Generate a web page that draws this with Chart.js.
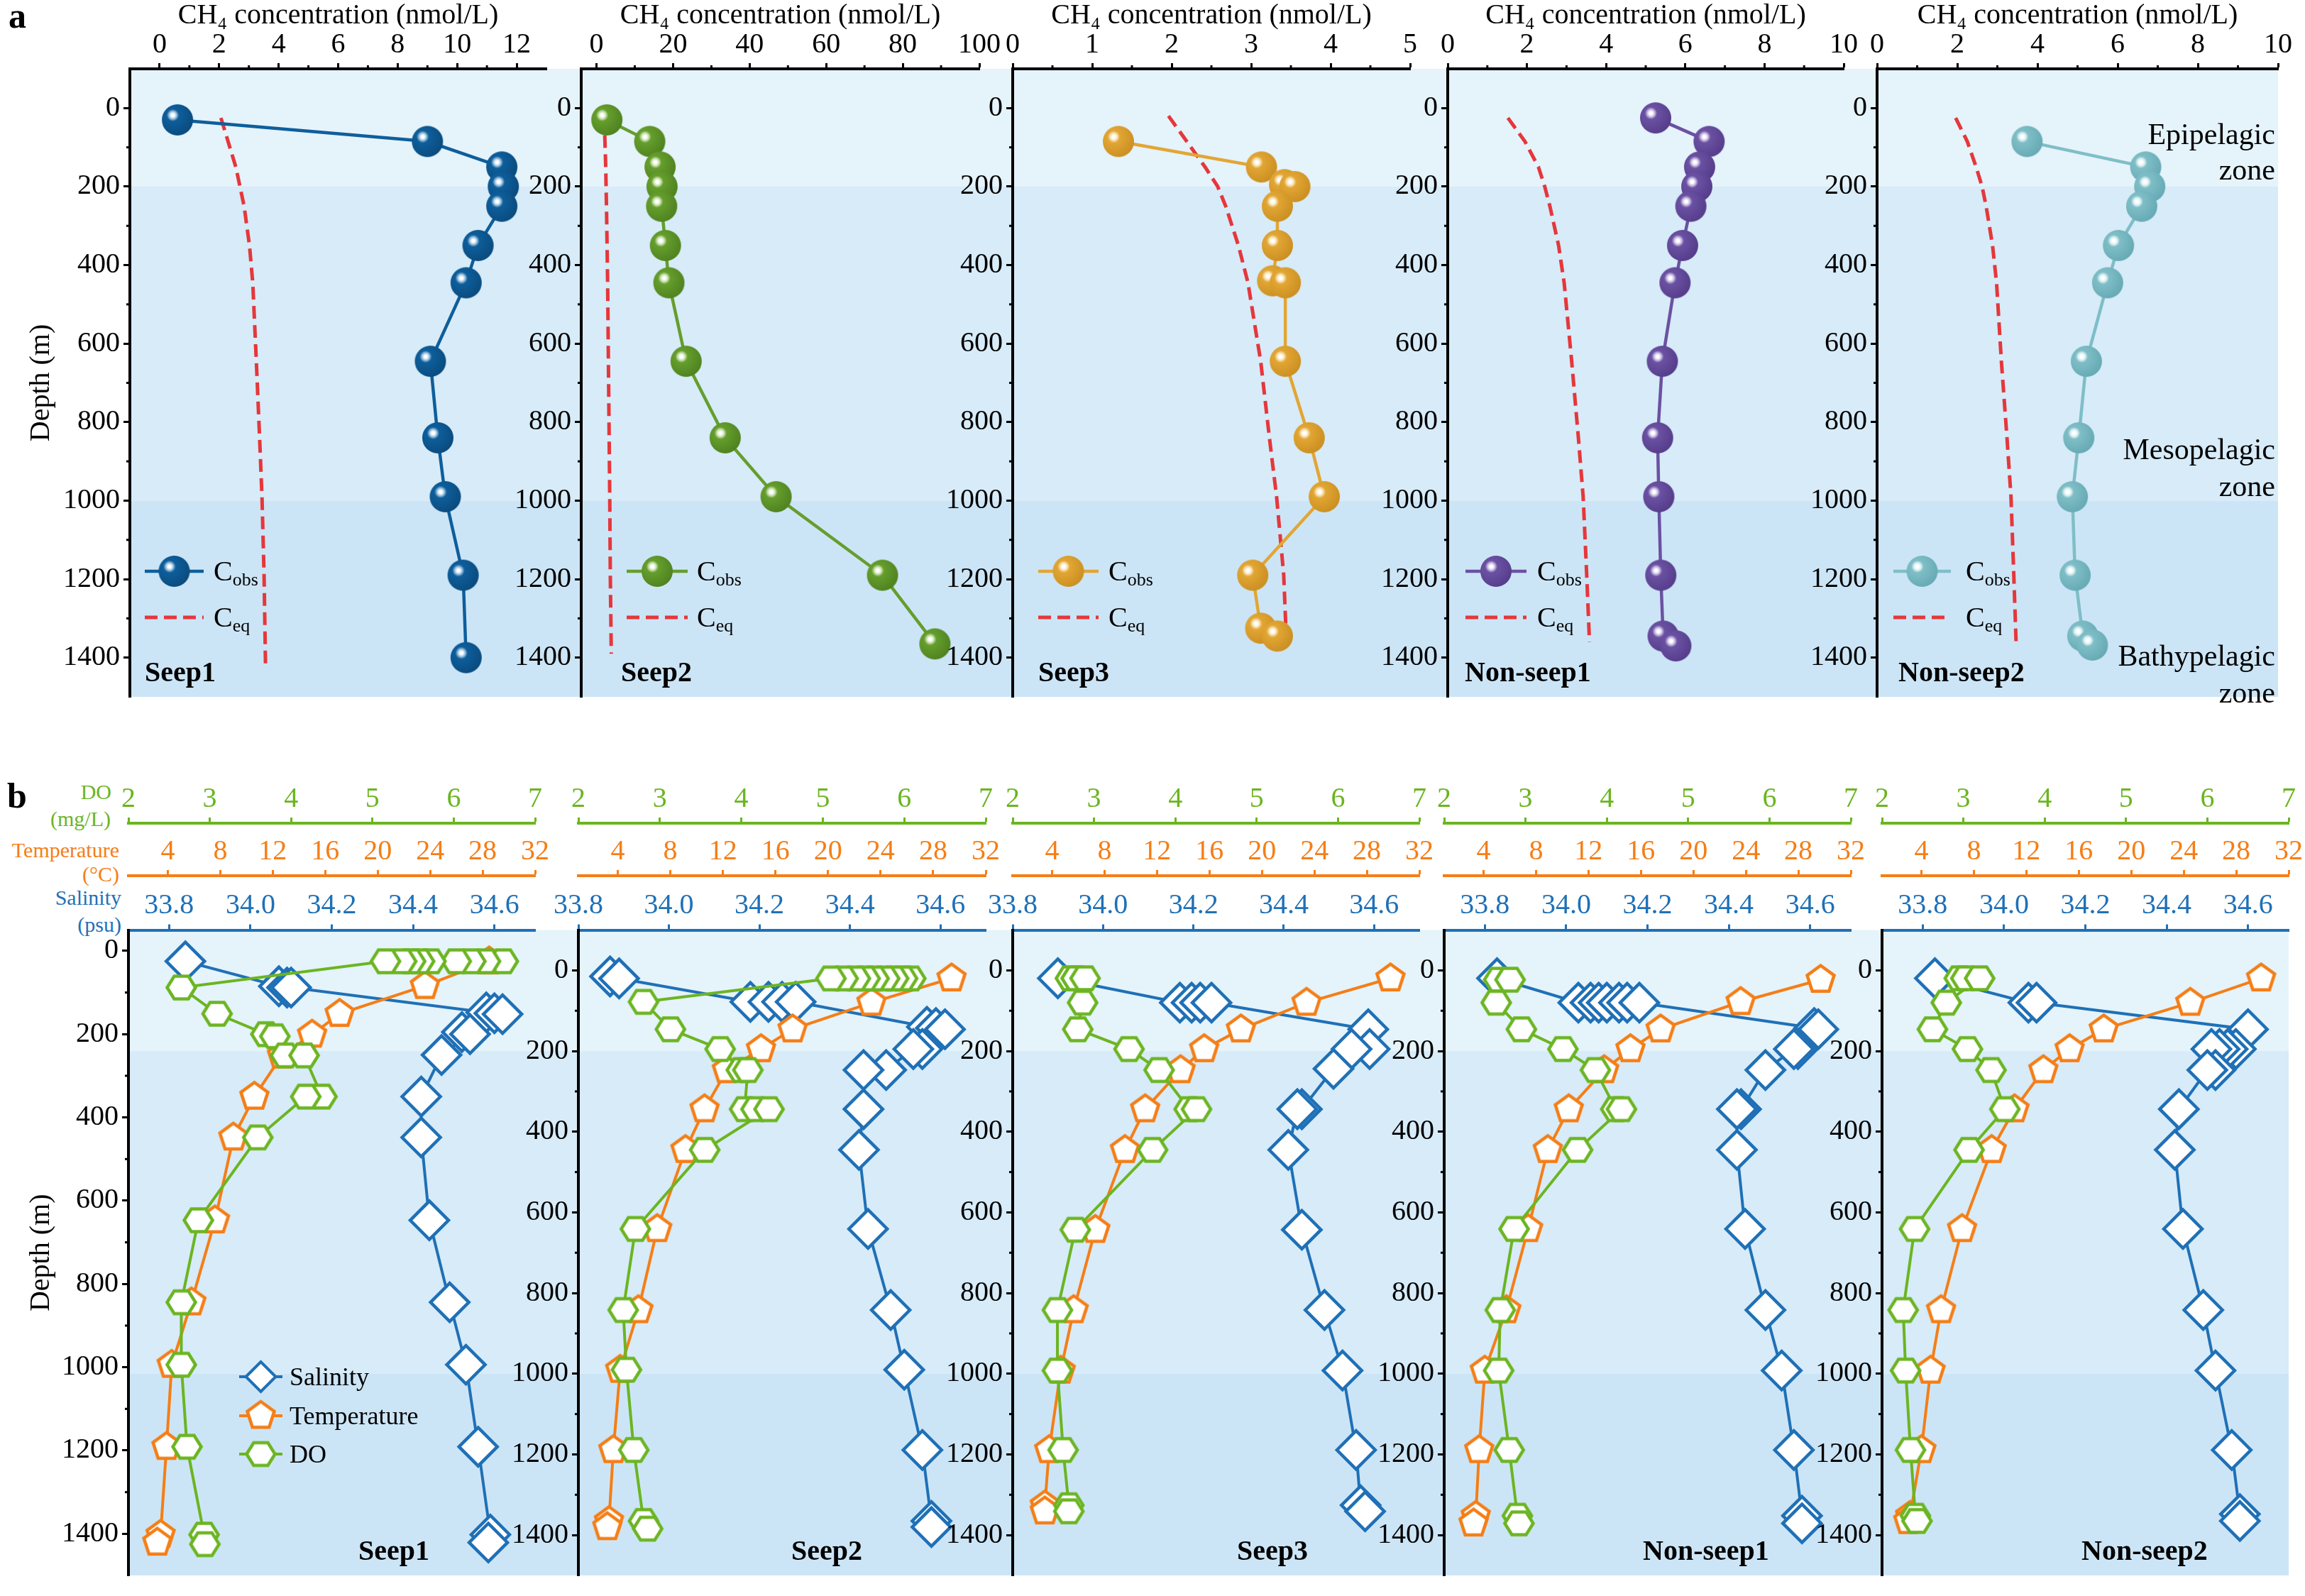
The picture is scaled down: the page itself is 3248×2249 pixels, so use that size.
<!DOCTYPE html>
<html>
<head>
<meta charset="utf-8">
<title>CH4 and hydrographic profiles</title>
<script src="https://cdn.jsdelivr.net/npm/chart.js@4.4.1/dist/chart.umd.min.js"></script>
<style>
  body { margin: 0; width: 3248px; height: 2249px; background: #fff; position: relative; overflow: hidden;
         font-family: 'Liberation Serif', 'Times New Roman', serif; }
  canvas { position: absolute; }
  .lbl { position: absolute; white-space: nowrap; line-height: 1; }
</style>
</head>
<body>
<div class="lbl" style="left:12px;top:-3px;font-size:50px;font-weight:bold;">a</div>
<div class="lbl" style="left:10px;top:1096px;font-size:50px;font-weight:bold;">b</div>
<div class="lbl" style="left:0;width:157px;text-align:right;top:1101px;font-size:30px;color:#6BB521;">DO</div>
<div class="lbl" style="left:0;width:156px;text-align:right;top:1139px;font-size:30px;color:#6BB521;">(mg/L)</div>
<div class="lbl" style="left:0;width:168px;text-align:right;top:1183px;font-size:30px;color:#F57E16;">Temperature</div>
<div class="lbl" style="left:0;width:168px;text-align:right;top:1217px;font-size:30px;color:#F57E16;">(°C)</div>
<div class="lbl" style="left:0;width:171px;text-align:right;top:1250px;font-size:30px;color:#1F70B6;">Salinity</div>
<div class="lbl" style="left:0;width:171px;text-align:right;top:1288px;font-size:30px;color:#1F70B6;">(psu)</div>

<script>
const FONT = "'Liberation Serif', 'Times New Roman', serif";

// depth axis labels shared by every panel
const depthTicks = [0, 200, 400, 600, 800, 1000, 1200, 1400];

// ---------- a: CH4 concentration profiles ----------
const ch4TicksSeep1 = [0, 2, 4, 6, 8, 10, 12];
const ch4TicksSeep2 = [0, 20, 40, 60, 80, 100];
const ch4TicksSeep3 = [0, 1, 2, 3, 4, 5];
const ch4TicksNonSeep = [0, 2, 4, 6, 8, 10];

const seep1CobsDepth = [30, 85, 150, 200, 250, 350, 445, 645, 840, 990, 1190, 1400];
const seep1Cobs = [0.6, 9.0, 11.5, 11.55, 11.5, 10.7, 10.3, 9.1, 9.35, 9.6, 10.2, 10.3];
const seep1CeqDepth = [25, 85, 150, 200, 250, 350, 445, 645, 840, 990, 1190, 1425];
const seep1Ceq = [2.06, 2.3, 2.56, 2.7, 2.84, 3.02, 3.13, 3.25, 3.36, 3.44, 3.51, 3.56];

const seep2CobsDepth = [30, 85, 150, 200, 250, 350, 445, 645, 840, 990, 1190, 1365];
const seep2Cobs = [2.7, 13.9, 16.6, 17.1, 17.0, 18.0, 18.9, 23.4, 33.6, 46.9, 74.7, 88.4];
const seep2CeqDepth = [20, 150, 250, 445, 645, 840, 990, 1190, 1390];
const seep2Ceq = [2.0, 2.4, 2.6, 2.9, 3.1, 3.3, 3.45, 3.6, 3.85];

const seep3CobsDepth = [85, 150, 195, 200, 250, 350, 440, 445, 645, 840, 990, 1190, 1325, 1345];
const seep3Cobs = [1.33, 3.13, 3.42, 3.55, 3.33, 3.33, 3.27, 3.43, 3.43, 3.73, 3.92, 3.02, 3.12, 3.33];
const seep3CeqDepth = [20, 85, 150, 200, 250, 350, 445, 645, 840, 990, 1190, 1340];
const seep3Ceq = [1.96, 2.19, 2.42, 2.58, 2.68, 2.84, 2.96, 3.12, 3.23, 3.32, 3.41, 3.44];

const nonseep1CobsDepth = [25, 85, 150, 200, 250, 350, 445, 645, 840, 990, 1190, 1345, 1370];
const nonseep1Cobs = [5.25, 6.6, 6.36, 6.29, 6.14, 5.93, 5.74, 5.42, 5.3, 5.33, 5.38, 5.44, 5.76];
const nonseep1CeqDepth = [25, 85, 150, 200, 250, 350, 445, 645, 840, 990, 1190, 1360];
const nonseep1Ceq = [1.52, 1.95, 2.29, 2.45, 2.58, 2.8, 2.94, 3.13, 3.3, 3.42, 3.51, 3.58];

const nonseep2CobsDepth = [85, 150, 200, 250, 350, 445, 645, 840, 990, 1190, 1345, 1368];
const nonseep2Cobs = [3.74, 6.7, 6.8, 6.6, 6.02, 5.75, 5.22, 5.03, 4.87, 4.94, 5.13, 5.37];
const nonseep2CeqDepth = [25, 85, 150, 200, 250, 350, 445, 645, 840, 990, 1190, 1370];
const nonseep2Ceq = [1.96, 2.25, 2.47, 2.62, 2.72, 2.88, 2.98, 3.1, 3.24, 3.34, 3.41, 3.47];

// ---------- b: salinity, temperature and DO ----------
const doTicks = [2, 3, 4, 5, 6, 7];
const tempTicks = [4, 8, 12, 16, 20, 24, 28, 32];
const salTicks = [33.8, 34.0, 34.2, 34.4, 34.6];

const seep1SalDepth = [25, 85, 88, 88, 148, 150, 152, 195, 200, 250, 350, 448, 647, 844, 994, 1191, 1402, 1421];
const seep1Sal = [33.84, 34.07, 34.09, 34.1, 34.58, 34.6, 34.62, 34.52, 34.54, 34.47, 34.42, 34.42, 34.44, 34.49, 34.53, 34.56, 34.59, 34.585];
const seep1TempDepth = [25, 84, 151, 201, 251, 350, 448, 647, 844, 994, 1191, 1402, 1421];
const seep1Temp = [28.5, 23.6, 17.1, 15.0, 12.7, 10.6, 9.0, 7.6, 5.8, 4.3, 3.9, 3.45, 3.2];
const seep1DoDepth = [25, 25, 25, 25, 25, 25, 25, 25, 25, 88, 151, 200, 205, 251, 251, 350, 350, 448, 647, 844, 994, 1191, 1402, 1425];
const seep1Do = [6.61, 6.39, 6.21, 6.03, 5.72, 5.58, 5.47, 5.36, 5.16, 2.65, 3.09, 3.69, 3.8, 3.93, 4.16, 4.38, 4.18, 3.59, 2.86, 2.65, 2.65, 2.72, 2.93, 2.94];

const seep2SalDepth = [15, 20, 78, 78, 78, 78, 140, 143, 146, 195, 195, 247, 247, 344, 445, 641, 842, 990, 1189, 1365, 1380];
const seep2Sal = [33.87, 33.89, 34.18, 34.22, 34.25, 34.28, 34.57, 34.59, 34.61, 34.56, 34.54, 34.48, 34.43, 34.43, 34.42, 34.44, 34.49, 34.52, 34.56, 34.58, 34.58];
const seep2TempDepth = [19.5, 80, 146, 195, 247, 344, 445, 641, 842, 990, 1189, 1365, 1380];
const seep2Temp = [29.4, 23.3, 17.3, 14.9, 12.3, 10.6, 9.15, 7.0, 5.57, 4.18, 3.66, 3.33, 3.2];
const seep2DoDepth = [20, 20, 20, 20, 20, 20, 20, 20, 20, 78, 146, 195, 247, 247, 344, 344, 344, 445, 641, 842, 990, 1189, 1365, 1384];
const seep2Do = [6.08, 5.98, 5.87, 5.76, 5.63, 5.52, 5.4, 5.25, 5.1, 2.8, 3.13, 3.74, 4.0, 4.08, 4.04, 4.18, 4.34, 3.55, 2.7, 2.55, 2.59, 2.68, 2.8, 2.85];

const seep3SalDepth = [19.5, 80, 80, 80, 80, 146, 195, 195, 244, 344, 344, 445, 643, 842, 992, 1189, 1326, 1341];
const seep3Sal = [33.9, 34.17, 34.196, 34.215, 34.24, 34.587, 34.59, 34.55, 34.51, 34.44, 34.43, 34.41, 34.44, 34.49, 34.53, 34.56, 34.57, 34.58];
const seep3TempDepth = [19.5, 80, 146, 195, 247, 344, 445, 643, 842, 992, 1189, 1326, 1341];
const seep3Temp = [29.8, 23.4, 18.4, 15.6, 13.8, 11.1, 9.56, 7.3, 5.65, 4.66, 3.78, 3.45, 3.45];
const seep3DoDepth = [19.5, 19.5, 19.5, 80, 146, 195, 247, 344, 344, 445, 643, 842, 992, 1189, 1326, 1341];
const seep3Do = [2.71, 2.78, 2.89, 2.86, 2.8, 3.43, 3.8, 4.17, 4.26, 3.72, 2.77, 2.55, 2.55, 2.62, 2.69, 2.69];

const nonseep1SalDepth = [19.5, 80, 80, 80, 80, 80, 80, 80, 143, 146, 195, 195, 247, 344, 344, 445, 641, 842, 992, 1189, 1352, 1371];
const nonseep1Sal = [33.83, 34.03, 34.06, 34.08, 34.1, 34.13, 34.15, 34.18, 34.61, 34.62, 34.57, 34.56, 34.49, 34.43, 34.42, 34.42, 34.44, 34.49, 34.53, 34.56, 34.58, 34.58];
const nonseep1TempDepth = [23, 78, 146, 195, 247, 344, 445, 641, 842, 992, 1189, 1352, 1371];
const nonseep1Temp = [29.7, 23.6, 17.5, 15.2, 13.2, 10.5, 8.9, 7.4, 5.74, 4.1, 3.67, 3.41, 3.24];
const nonseep1DoDepth = [23, 23, 80, 146, 195, 247, 344, 344, 445, 641, 842, 992, 1189, 1352, 1371];
const nonseep1Do = [2.67, 2.81, 2.64, 2.95, 3.46, 3.86, 4.11, 4.18, 3.64, 2.86, 2.69, 2.67, 2.8, 2.9, 2.92];

const nonseep2SalDepth = [19.5, 80, 80, 146, 195, 195, 195, 195, 247, 247, 344, 445, 641, 842, 992, 1189, 1348, 1365];
const nonseep2Sal = [33.83, 34.06, 34.08, 34.6, 34.57, 34.55, 34.53, 34.51, 34.52, 34.5, 34.43, 34.42, 34.44, 34.49, 34.52, 34.56, 34.58, 34.58];
const nonseep2TempDepth = [19.5, 80, 146, 195, 247, 344, 445, 641, 842, 992, 1189, 1352, 1365];
const nonseep2Temp = [29.9, 24.5, 17.9, 15.3, 13.3, 11.1, 9.36, 7.1, 5.5, 4.7, 4.0, 3.14, 3.0];
const nonseep2DoDepth = [19.5, 19.5, 19.5, 80, 146, 195, 247, 344, 445, 641, 842, 992, 1189, 1352, 1365];
const nonseep2Do = [2.95, 3.03, 3.2, 2.79, 2.62, 3.05, 3.34, 3.51, 3.07, 2.4, 2.26, 2.29, 2.35, 2.41, 2.43];

// ---------- styles ----------
const BLUE = '#1F70B6', ORANGE = '#F57E16', GREEN = '#6BB521', RED = '#E5373B';
const BAND = ['#E5F3FB', '#D7EBF8', '#CCE5F6'];

const pts = (xs, ys) => xs.map((x, i) => ({ x: x, y: ys[i] }));

// 3d-looking ball used for Cobs
function sphereImg(color, light, dark, r) {
  const s = 2 * r + 2;
  const c = document.createElement('canvas');
  c.width = s; c.height = s;
  const g = c.getContext('2d');
  const hx = s / 2 - r * 0.3, hy = s / 2 - r * 0.3;
  const grd = g.createRadialGradient(hx, hy, 0, hx, hy, r * 1.4);
  grd.addColorStop(0, '#ffffff');
  grd.addColorStop(0.07, '#ffffff');
  grd.addColorStop(0.17, light);
  grd.addColorStop(0.28, color);
  grd.addColorStop(1, dark);
  g.fillStyle = grd;
  g.beginPath(); g.arc(s / 2, s / 2, r, 0, Math.PI * 2); g.fill();
  return c;
}

// hollow polygon marker (pentagon / hexagon)
function polyImg(n, r, rot, sy, stroke, lw) {
  const s = Math.ceil(2 * r + lw + 4);
  const c = document.createElement('canvas');
  c.width = s; c.height = s;
  const g = c.getContext('2d');
  g.beginPath();
  for (let k = 0; k < n; k++) {
    const a = rot + k * 2 * Math.PI / n;
    const px = s / 2 + r * Math.cos(a), py = s / 2 + r * Math.sin(a) * sy;
    if (k) g.lineTo(px, py); else g.moveTo(px, py);
  }
  g.closePath();
  g.fillStyle = '#fff'; g.fill();
  g.lineWidth = lw; g.strokeStyle = stroke; g.lineJoin = 'miter'; g.stroke();
  return c;
}

const pentImg = polyImg(5, 20, -Math.PI / 2, 1, ORANGE, 4.5);
const hexImg = polyImg(6, 20, 0, 0.92, GREEN, 4.5);

function minorValues(min, max, step, major) {
  const out = [];
  for (let v = Math.ceil(min / step) * step; v < max - 1e-9; v += step) {
    const r = Math.round(v * 1000) / 1000;
    if (r <= min + 1e-9) continue;
    if (!major.some(m => Math.abs(m - r) < 1e-6)) out.push(r);
  }
  return out;
}

// short minor ticks that Chart.js cannot draw itself
const minorTicks = {
  id: 'minorTicks',
  afterDraw(chart, args, opts) {
    const ctx = chart.ctx;
    (opts.list || []).forEach(m => {
      const s = chart.scales[m.axis];
      ctx.save();
      ctx.strokeStyle = m.color; ctx.lineWidth = 3;
      m.values.forEach(v => {
        const p = s.getPixelForValue(v);
        ctx.beginPath();
        if (s.isHorizontal()) { ctx.moveTo(p, s.bottom); ctx.lineTo(p, s.bottom - m.len); }
        else { ctx.moveTo(s.right, p); ctx.lineTo(s.right - m.len, p); }
        ctx.stroke();
      });
      ctx.restore();
    });
  }
};

function drawLabel(ctx, x, y, main, sub, size) {
  ctx.font = size + 'px ' + FONT;
  ctx.textBaseline = 'alphabetic';
  ctx.textAlign = 'left';
  ctx.fillStyle = '#000';
  ctx.fillText(main, x, y + size * 0.33);
  if (sub) {
    const w = ctx.measureText(main).width;
    ctx.font = Math.round(size * 0.66) + 'px ' + FONT;
    ctx.fillText(sub, x + w, y + size * 0.5);
  }
}

// panel name, legend and zone captions
const decor = {
  id: 'decor',
  afterDraw(chart, args, o) {
    const { ctx, chartArea: ca } = chart;
    ctx.save();
    if (o.name) {
      ctx.font = 'bold 40px ' + FONT;
      ctx.fillStyle = '#000'; ctx.textBaseline = 'middle'; ctx.textAlign = 'left';
      ctx.fillText(o.name, ca.left + o.nameX, ca.bottom - 32);
    }
    (o.legend || []).forEach(row => {
      const y = ca.bottom + row.dy;
      ctx.save();
      ctx.strokeStyle = row.color; ctx.lineWidth = row.lw || 4;
      if (row.dash) ctx.setLineDash(row.dash);
      ctx.beginPath(); ctx.moveTo(ca.left + row.x0, y); ctx.lineTo(ca.left + row.x1, y); ctx.stroke();
      ctx.restore();
      if (row.img) {
        const mx = ca.left + (row.x0 + row.x1) / 2;
        ctx.drawImage(row.img, mx - row.img.width / 2, y - row.img.height / 2);
      }
      if (row.diamond) {
        const mx = ca.left + (row.x0 + row.x1) / 2, r = row.diamond;
        ctx.beginPath();
        ctx.moveTo(mx - r, y); ctx.lineTo(mx, y - r); ctx.lineTo(mx + r, y); ctx.lineTo(mx, y + r); ctx.closePath();
        ctx.fillStyle = '#fff'; ctx.fill(); ctx.lineWidth = 4; ctx.strokeStyle = row.color; ctx.stroke();
      }
      drawLabel(ctx, ca.left + row.tx, y, row.text, row.sub, row.size);
    });
    (o.zones || []).forEach(z => {
      ctx.font = '42px ' + FONT;
      ctx.fillStyle = '#000'; ctx.textBaseline = 'middle'; ctx.textAlign = 'right';
      ctx.fillText(z.text, ca.right - 4, ca.top + z.dy);
    });
    ctx.restore();
  }
};

function makeCanvas(left, top, w, h) {
  const c = document.createElement('canvas');
  c.width = w; c.height = h;
  c.style.left = left + 'px'; c.style.top = top + 'px';
  c.style.width = w + 'px'; c.style.height = h + 'px';
  document.body.appendChild(c);
  return c;
}

function depthAxis(min, w, withTitle) {
  return {
    type: 'linear', position: 'left', reverse: true, min: min, max: 1500,
    afterBuildTicks: s => { s.ticks = depthTicks.map(v => ({ value: v })); },
    afterFit: s => { s.width = w; },
    ticks: { font: { family: FONT, size: 40 }, color: '#000', padding: 5, autoSkip: false,
             callback: v => String(v) },
    grid: { drawOnChartArea: false, tickLength: 9, tickWidth: 3, tickColor: '#000' },
    border: { color: '#000', width: 4 },
    title: { display: withTitle, text: 'Depth (m)', color: '#000',
             font: { family: FONT, size: 40 }, padding: { top: 34, bottom: 0 } }
  };
}

function topAxis(min, max, ticks, color, h, weight, fmt, title) {
  return {
    type: 'linear', position: 'top', min: min, max: max, weight: weight,
    afterBuildTicks: s => { s.ticks = ticks.map(v => ({ value: v })); },
    afterFit: s => { s.height = h; },
    ticks: { font: { family: FONT, size: 40 }, color: color, padding: 2, maxRotation: 0, minRotation: 0,
             autoSkip: false, callback: fmt },
    grid: { drawOnChartArea: false, tickLength: 8, tickWidth: 3, tickColor: color },
    border: { color: color, width: 4 },
    title: title ? { display: true, text: title, color: '#000',
                     font: { family: FONT, size: 40, lineHeight: 1.1 }, padding: { top: 0, bottom: 0 } }
                 : { display: false }
  };
}

// ---------- row a ----------
const panelsA = [
  { name: 'Seep1', left: 183, right: 770, min: -1, max: 13, ticks: ch4TicksSeep1, minor: 1,
    cobs: pts(seep1Cobs, seep1CobsDepth), ceq: pts(seep1Ceq, seep1CeqDepth),
    color: '#0E5E9B', light: '#9CC2DF', dark: '#0A4B7E', nameX: 21, leg: [21, 104, 118] },
  { name: 'Seep2', left: 819, right: 1380, min: -4, max: 100, ticks: ch4TicksSeep2, minor: 10,
    cobs: pts(seep2Cobs, seep2CobsDepth), ceq: pts(seep2Ceq, seep2CeqDepth),
    color: '#659E2D', light: '#C9E0AC', dark: '#4F8220', nameX: 56, leg: [64, 150, 163] },
  { name: 'Seep3', left: 1427, right: 1987, min: 0, max: 5, ticks: ch4TicksSeep3, minor: 0.5,
    cobs: pts(seep3Cobs, seep3CobsDepth), ceq: pts(seep3Ceq, seep3CeqDepth),
    color: '#E2A634', light: '#F7E0AE', dark: '#CB8F22', nameX: 36, leg: [36, 121, 135] },
  { name: 'Non-seep1', left: 2040, right: 2598, min: 0, max: 10, ticks: ch4TicksNonSeep, minor: 1,
    cobs: pts(nonseep1Cobs, nonseep1CobsDepth), ceq: pts(nonseep1Ceq, nonseep1CeqDepth),
    color: '#6B51A2', light: '#C8BBE2', dark: '#563D8B', nameX: 24, leg: [25, 111, 126] },
  { name: 'Non-seep2', left: 2645, right: 3210, min: 0, max: 10, ticks: ch4TicksNonSeep, minor: 1,
    cobs: pts(nonseep2Cobs, nonseep2CobsDepth), ceq: pts(nonseep2Ceq, nonseep2CeqDepth),
    color: '#7FBEC7', light: '#D8EEF1', dark: '#66AAB4', nameX: 30, leg: [23, 104, 125],
    zones: [{ text: 'Epipelagic', dy: 95 }, { text: 'zone', dy: 145 },
            { text: 'Mesopelagic', dy: 539 }, { text: 'zone', dy: 591 },
            { text: 'Bathypelagic', dy: 830 }, { text: 'zone', dy: 882 }] }
];

// ---------- row b ----------
const panelsB = [
  { name: 'Seep1', left: 181, right: 754, yMin: -50, salMin: 33.7, nameX: 324,
    sal: [seep1Sal, seep1SalDepth], temp: [seep1Temp, seep1TempDepth], dox: [seep1Do, seep1DoDepth], legend: true },
  { name: 'Seep2', left: 815, right: 1389, yMin: -100, salMin: 33.8, nameX: 300,
    sal: [seep2Sal, seep2SalDepth], temp: [seep2Temp, seep2TempDepth], dox: [seep2Do, seep2DoDepth] },
  { name: 'Seep3', left: 1427, right: 2000, yMin: -100, salMin: 33.8, nameX: 316,
    sal: [seep3Sal, seep3SalDepth], temp: [seep3Temp, seep3TempDepth], dox: [seep3Do, seep3DoDepth] },
  { name: 'Non-seep1', left: 2035, right: 2608, yMin: -100, salMin: 33.7, nameX: 280,
    sal: [nonseep1Sal, nonseep1SalDepth], temp: [nonseep1Temp, nonseep1TempDepth], dox: [nonseep1Do, nonseep1DoDepth] },
  { name: 'Non-seep2', left: 2652, right: 3225, yMin: -100, salMin: 33.7, nameX: 281,
    sal: [nonseep2Sal, nonseep2SalDepth], temp: [nonseep2Temp, nonseep2TempDepth], dox: [nonseep2Do, nonseep2DoDepth] }
];

// background bands behind each row (drawn from the charts' depth scales)
const bgA = makeCanvas(0, 0, 3248, 1011);
const bgB = makeCanvas(0, 1090, 3248, 1159);

const chartsA = panelsA.map((p, i) => {
  const yW = i === 0 ? 183 : 130;
  const padR = 45;
  const cv = makeCanvas(p.left - yW, 0, p.right - p.left + yW + padR, 1011);
  const ball = sphereImg(p.color, p.light, p.dark, 22);
  return new Chart(cv, {
    type: 'scatter',
    data: {
      datasets: [
        { label: 'Cobs', data: p.cobs, showLine: true, borderColor: p.color, borderWidth: 4.5,
          pointStyle: ball, pointRadius: 22, clip: false, order: 1 },
        { label: 'Ceq', data: p.ceq, showLine: true, borderColor: RED, borderWidth: 5, borderDash: [18, 9],
          pointRadius: 0, clip: false, order: 2 }
      ]
    },
    options: {
      responsive: false, animation: false,
      layout: { padding: { left: 0, right: padR, top: 0, bottom: 10 }, autoPadding: false },
      plugins: {
        legend: { display: false }, tooltip: { enabled: false },
        minorTicks: { list: [
          { axis: 'x', values: minorValues(p.min, p.max, p.minor, p.ticks), len: 5, color: '#000' },
          { axis: 'y', values: minorValues(-100, 1500, 100, depthTicks), len: 5, color: '#000' }
        ] },
        decor: {
          name: p.name, nameX: p.nameX, zones: p.zones,
          legend: [
            { dy: -177, x0: p.leg[0], x1: p.leg[1], tx: p.leg[2], color: p.color, lw: 4.5, img: ball, text: 'C', sub: 'obs', size: 40 },
            { dy: -112, x0: p.leg[0], x1: p.leg[1], tx: p.leg[2], color: RED, lw: 5, dash: [18, 9], text: 'C', sub: 'eq', size: 40 }
          ]
        }
      },
      scales: {
        x: topAxis(p.min, p.max, p.ticks, '#000', 97, 0, v => String(v), 'CH\u2084 concentration (nmol/L)'),
        y: depthAxis(-100, yW, i === 0)
      }
    },
    plugins: [minorTicks, decor]
  });
});

const chartsB = panelsB.map((p, i) => {
  const yW = i === 0 ? 181 : 130;
  const padR = 25;
  const cv = makeCanvas(p.left - yW, 1090, p.right - p.left + yW + padR, 1159);
  return new Chart(cv, {
    type: 'scatter',
    data: {
      datasets: [
        { label: 'Salinity', data: pts(p.sal[0], p.sal[1]), xAxisID: 'xs', showLine: true,
          borderColor: BLUE, borderWidth: 4, pointStyle: 'rectRot', pointRadius: 27, pointBorderWidth: 4.5,
          pointBorderColor: BLUE, pointBackgroundColor: '#fff', clip: false, order: 3 },
        { label: 'Temperature', data: pts(p.temp[0], p.temp[1]), xAxisID: 'xt', showLine: true,
          borderColor: ORANGE, borderWidth: 4, pointStyle: pentImg, pointRadius: 20, clip: false, order: 2 },
        { label: 'DO', data: pts(p.dox[0], p.dox[1]), xAxisID: 'xd', showLine: true,
          borderColor: GREEN, borderWidth: 4, pointStyle: hexImg, pointRadius: 20, clip: false, order: 1 }
      ]
    },
    options: {
      responsive: false, animation: false,
      layout: { padding: { left: 0, right: padR, top: 0, bottom: 10 }, autoPadding: false },
      plugins: {
        legend: { display: false }, tooltip: { enabled: false },
        minorTicks: { list: [
          { axis: 'y', values: minorValues(p.yMin, 1500, 100, depthTicks), len: 5, color: '#000' }
        ] },
        decor: {
          name: p.name, nameX: p.nameX,
          legend: p.legend ? [
            { dy: -280, x0: 156, x1: 217, tx: 227, color: BLUE, lw: 4, diamond: 21, text: 'Salinity', size: 36 },
            { dy: -225, x0: 156, x1: 217, tx: 227, color: ORANGE, lw: 4, img: pentImg, text: 'Temperature', size: 36 },
            { dy: -171, x0: 156, x1: 217, tx: 227, color: GREEN, lw: 4, img: hexImg, text: 'DO', size: 36 }
          ] : []
        }
      },
      scales: {
        xd: topAxis(2, 7, doTicks, GREEN, 70, 2, v => String(v)),
        xt: topAxis(1, 32, tempTicks, ORANGE, 74, 1, v => String(v)),
        xs: topAxis(p.salMin, 34.7, salTicks, BLUE, 76.6, 0, v => Number(v).toFixed(1)),
        y: depthAxis(p.yMin, yW, i === 0)
      }
    },
    plugins: [minorTicks, decor]
  });
});

function drawBands(bg, bgTop, first, firstLeft, last, lastLeft, ref, refTop) {
  const g = bg.getContext('2d');
  const y = ref.scales.y;
  const off = refTop - bgTop;
  const x0 = first.chartArea.left + firstLeft;
  const x1 = last.chartArea.right + lastLeft;
  const top = ref.chartArea.top + off, bottom = ref.chartArea.bottom + off;
  const y200 = y.getPixelForValue(200) + off, y1000 = y.getPixelForValue(1000) + off;
  g.fillStyle = BAND[0]; g.fillRect(x0, top, x1 - x0, y200 - top);
  g.fillStyle = BAND[1]; g.fillRect(x0, y200, x1 - x0, y1000 - y200);
  g.fillStyle = BAND[2]; g.fillRect(x0, y1000, x1 - x0, bottom - y1000);
}

drawBands(bgA, 0, chartsA[0], 0, chartsA[4], panelsA[4].left - 130, chartsA[1], 0);
drawBands(bgB, 1090, chartsB[0], 0, chartsB[4], panelsB[4].left - 130, chartsB[1], 1090);
</script>
</body>
</html>
